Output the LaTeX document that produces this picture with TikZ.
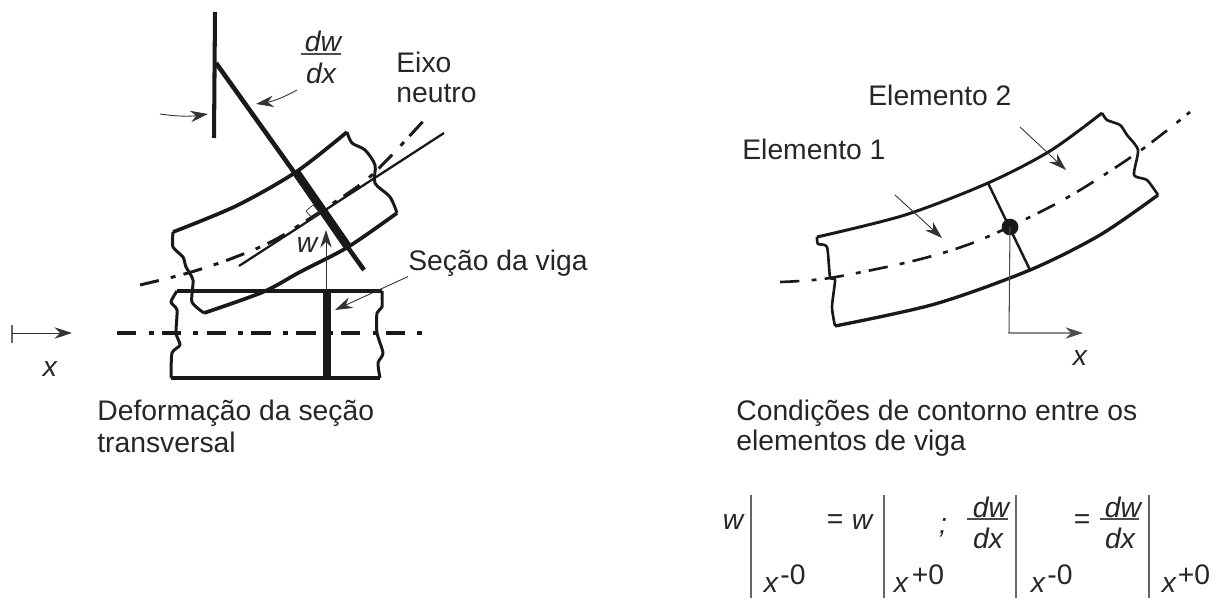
\documentclass[tikz,border=0pt]{standalone}
\usepackage{fontspec}
\setmainfont{Liberation Sans}
\usetikzlibrary{positioning,arrows.meta}

\begin{document}
\begin{tikzpicture}[
				x=0.02cm, y=-0.02cm,
				texto/.style={rectangle, inner sep=0pt, anchor=west, text=black!85, font=\fontsize{16.1}{19}\selectfont},
				sym/.style={rectangle, inner sep=0pt, text=black!85, font=\fontsize{16.1}{19}\selectfont\itshape},
				sup/.style={rectangle, inner sep=0pt, text=black!85, font=\fontsize{16.1}{19}\selectfont},
				edge/.style={draw=black!90, line width=2.1pt, line join=round},
				rough/.style={draw=black!90, line width=1.7pt, line join=round},
				thinedge/.style={draw=black!90, line width=1.5pt, line join=round},
				dashdot/.style={draw=black!90, line width=1.7pt, dash pattern=on 11pt off 7pt on 2.8pt off 4.7pt},
				axisline/.style={draw=black!90, line width=2.2pt, dash pattern=on 11pt off 7pt on 2.8pt off 4.7pt},
				pointer/.style={draw=black!80, line width=0.5pt, -{Stealth[length=10pt,width=6.5pt]}},
				evalbar/.style={draw=black!60, line width=0.7pt},
				fracbar/.style={draw=black!70, line width=0.6pt}
			]
			\useasboundingbox (0,0) rectangle (1219,598);
			\coordinate (bartop) at (215,12);
			\coordinate (barbottom) at (214,138);
			\coordinate (tilttop) at (216,63);
			\coordinate (tiltbottom) at (364,270);
			\coordinate (sectiontop) at (296,172);
			\coordinate (sectionbottom) at (348,247);
			\coordinate (straighttop) at (327,291);
			\coordinate (straightbottom) at (327,378);
			\coordinate (neutralstart) at (239,266);
			\coordinate (neutralend) at (444,133);
			\coordinate (elemonetop) at (988,183);
			\coordinate (elemonebottom) at (1030,270);

			\draw[line width=2.3pt, draw=black!90] (bartop) -- (barbottom);
			\draw[line width=2.6pt, draw=black!90] (tilttop) -- (tiltbottom);
			\draw[line width=4.8pt, draw=black!90] (sectiontop) -- (sectionbottom);
			\draw[line width=1.3pt, draw=black!90] (neutralstart) -- (neutralend);
			\draw[edge] plot[smooth, tension=0.5] coordinates {(173,232) (236,206) (296,172) (347,132)};
			\draw[edge] plot[smooth, tension=0.5] coordinates {(204,313) (263,292) (300,272) (348,247) (397,213)};
			\draw[rough] plot[smooth, tension=0.4] coordinates {(173,232) (173,247) (183,257) (186,267) (193,280) (192,302) (204,313)};
			\draw[rough] plot[smooth, tension=0.5] coordinates {(347,132) (352,143) (365,150) (375,165) (375,183) (390,197) (397,213)};
			\draw[dashdot] plot[smooth] coordinates {(140,285) (188,273) (233,258) (280,237) (357,187) (387,160) (427,117)};
			\draw[draw=black!80, line width=0.4pt] (306,211) -- (313,205) -- (320,213) -- (312,218) -- cycle;

			\draw[edge] (177,291) -- (382,291);
			\draw[edge] (171,378) -- (380,378);
			\draw[rough] plot[smooth, tension=0.4] coordinates {(177,291) (171,302) (177,310) (176,333) (180,345) (172,353) (171,378)};
			\draw[rough] plot[smooth, tension=0.4] coordinates {(382,291) (382,307) (377,313) (377,333) (383,353) (378,363) (380,378)};
			\draw[line width=4.4pt, draw=black!90] (straighttop) -- (straightbottom);
			\draw[axisline] (117,333) -- (430,333);

			\node[sym] (dwleft) at (323,41) {dw};
			\node[sym] (dxleft) at (321,73) {dx};
			\draw[fracbar] (301,54) -- (341,54);
			\coordinate (tiltarrow) at (256,104);
			\coordinate (barleft) at (160,114);
			\coordinate (barright) at (208,114);
			\coordinate (dwstart) at (297,90);
			\draw[pointer] (dwstart) to[bend left=10] (tiltarrow);
			\draw[pointer] (barleft) to[bend right=8] (barright);
			\node[texto] (eixo) at (396,62) {Eixo};
			\node[texto] (neutro) at (396,93) {neutro};
			\coordinate (wbase) at (326,291);
			\node[sym] (wleft) at (307,245) {w};
			\coordinate (wtip) at (326,230);
			\draw[pointer] (wbase) -- (wtip);
			\node[texto] (secao) at (408,263) {Seção da viga};
			\coordinate (secaotip) at (335,310);
			\draw[pointer] (secao.south west) -- (secaotip);
			\coordinate (xbar) at (12,333);
			\coordinate (xtip) at (72,333);
			\draw[evalbar] (12,325) -- (12,343);
			\draw[pointer] (xbar) -- (xtip);
			\node[sym] (xleft) at (50,369) {x};
			\node[texto] (deformacao) at (97,413) {Deformação da seção};
			\node[texto] (transversal) [below=17pt of deformacao.west, anchor=west] {transversal};

			\draw[edge, line width=1.7pt] plot[smooth, tension=0.5] coordinates {(817,237) (905,215) (988,183) (1050,151) (1102,113)};
			\draw[edge, line width=1.9pt] plot[smooth, tension=0.5] coordinates {(835,326) (935,304) (1030,270) (1100,235) (1158,195)};
			\draw[thinedge] plot[smooth, tension=0.4] coordinates {(817,237) (818,244) (827,247) (830,277) (835,280) (832,307) (835,326)};
			\draw[thinedge] plot[smooth, tension=0.4] coordinates {(1102,113) (1107,120) (1120,125) (1127,135) (1138,150) (1134,175) (1147,180) (1158,195)};
			\draw[line width=1.4pt, draw=black!90] (elemonetop) -- (elemonebottom);
			\draw[dashdot, line width=1.5pt] plot[smooth] coordinates {(780,282) (830,278) (917,260) (980,240) (1063,200) (1137,153) (1190,112)};
			\node[circle, fill=black!90, inner sep=0pt, minimum size=9.5pt] (joint) at (1010,227) {};
			\coordinate (xcorner) at (1009,333);
			\coordinate (xrighttip) at (1083,333);
			\draw[draw=black!70, line width=0.6pt, -{Stealth[length=10pt,width=6.5pt]}] (joint.center) -- (xcorner) -- (xrighttip);
			\node[sym] (xright) at (1080,358) {x};
			\node[texto] (elemtwo) at (868,95) {Elemento 2};
			\node[texto] (elemone) at (742,149) {Elemento 1};
			\coordinate (elemonestart) at (895,195);
			\coordinate (elemonetip) at (942,238);
			\coordinate (elemtwostart) at (1020,127);
			\coordinate (elemtwotip) at (1066,170);
			\draw[pointer] (elemonestart) -- (elemonetip);
			\draw[pointer] (elemtwostart) -- (elemtwotip);
			\node[texto] (condicoes) at (736,413) {Condições de contorno entre os};
			\node[texto] (elementos) [below=17pt of condicoes.west, anchor=west] {elementos de viga};

			\foreach \barx in {751,884,1016,1149} {
				\draw[evalbar] (\barx,495) -- (\barx,598);
			}
			\node[sym] (wone) at (733,522) {w};
			\node[sup] (equalone) at (835,522) {=};
			\node[sym] (wtwo) at (862,522) {w};
			\node[sym] (semi) at (943,528) {;};
			\node[sym] (dwone) at (991,507) {dw};
			\node[sym] (dxone) at (988,538) {dx};
			\draw[fracbar] (967,519) -- (1008,519);
			\node[sup] (equaltwo) at (1082,522) {=};
			\node[sym] (dwtwo) at (1123,507) {dw};
			\node[sym] (dxtwo) at (1120,538) {dx};
			\draw[fracbar] (1100,519) -- (1139,519);
			\node[sym] (xa) at (771,585) {x};
			\node[sup] (supa) at (793,575) {-0};
			\node[sym] (xb) at (901,585) {x};
			\node[sup] (supb) at (928,575) {+0};
			\node[sym] (xc) at (1038,585) {x};
			\node[sup] (supc) at (1060,575) {-0};
			\node[sym] (xd) at (1169,585) {x};
			\node[sup] (supd) at (1194,575) {+0};
			\end{tikzpicture}
\end{document}
